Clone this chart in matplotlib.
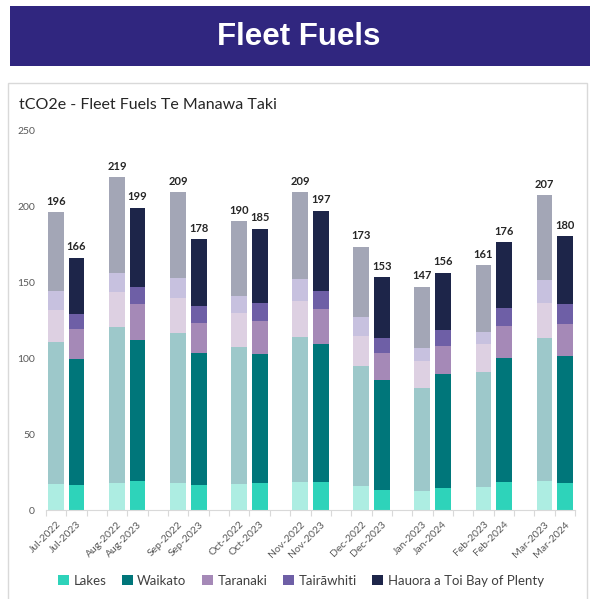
import matplotlib
matplotlib.use("Agg")
import matplotlib.pyplot as plt
from matplotlib.patches import Rectangle, Patch
import numpy as np

plt.rcParams['font.family'] = ['Lato', 'DejaVu Sans']

# ---- data ----
months = ["Jul", "Aug", "Sep", "Oct", "Nov", "Dec", "Jan", "Feb", "Mar"]
labels_prev = ["Jul-2022", "Aug-2022", "Sep-2022", "Oct-2022", "Nov-2022",
               "Dec-2022", "Jan-2023", "Feb-2023", "Mar-2023"]
labels_curr = ["Jul-2023", "Aug-2023", "Sep-2023", "Oct-2023", "Nov-2023",
               "Dec-2023", "Jan-2024", "Feb-2024", "Mar-2024"]
regions = ["Lakes", "Waikato", "Taranaki", "Tairāwhiti", "Hauora a Toi Bay of Plenty"]

# previous year (faded bars)
lakes_prev = [17.0, 17.5, 18.0, 17.0, 18.6, 16.0, 12.5, 15.0, 19.3]
waikato_prev = [93.5, 102.7, 98.7, 90.0, 95.4, 78.5, 67.8, 76.0, 94.0]
taranaki_prev = [21.0, 23.2, 22.8, 22.6, 23.7, 20.0, 18.0, 18.3, 23.2]
tairawhiti_prev = [12.5, 12.7, 13.4, 11.4, 14.5, 12.5, 8.2, 8.0, 14.7]
bop_prev = [52.0, 62.9, 56.1, 49.0, 56.8, 46.0, 40.5, 43.7, 55.8]
totals_prev = [196, 219, 209, 190, 209, 173, 147, 161, 207]

# current year (solid bars)
lakes_curr = [16.2, 19.1, 16.2, 17.8, 18.2, 13.4, 14.7, 18.2, 17.5]
waikato_curr = [83.4, 92.5, 87.1, 85.1, 90.8, 72.1, 75.0, 81.8, 84.0]
taranaki_curr = [19.5, 24.1, 19.9, 21.4, 23.0, 17.6, 18.4, 20.8, 21.1]
tairawhiti_curr = [9.9, 11.0, 11.0, 11.9, 12.1, 9.8, 10.1, 12.3, 12.9]
bop_curr = [37.0, 52.3, 43.8, 48.8, 52.9, 40.1, 37.8, 42.9, 44.5]
totals_curr = [166, 199, 178, 185, 197, 153, 156, 176, 180]

# ---- style ----
solid_colors = ["#2ED3BA", "#00767A", "#A589B7", "#6E5FA6", "#1D2549"]
faded_colors = ["#ADEDE2", "#9DC8CA", "#DDD0E2", "#C7C1DF", "#A3A6B6"]

W, H = 590, 599
fig = plt.figure(figsize=(W / 100, H / 100), dpi=100)

def fx(px):
    return px / W

def fy(py):
    return 1 - py / H

# banner
fig.patches.append(Rectangle((fx(10), fy(66)), fx(590) - fx(10), fy(6) - fy(66),
                             transform=fig.transFigure, facecolor="#30267F",
                             edgecolor="none", zorder=0))
fig.text(fx(299), fy(37), "Fleet Fuels", color="white", fontsize=22.5,
         fontweight="bold", family=["Liberation Sans", "DejaVu Sans"],
         ha="center", va="center")

# panel border
fig.patches.append(Rectangle((fx(8), fy(605)), fx(587) - fx(8), fy(83) - fy(605),
                             transform=fig.transFigure, facecolor="none",
                             edgecolor="#D9D9D9", linewidth=1.0, zorder=0))

fig.text(fx(19), fy(105), "tCO2e - Fleet Fuels Te Manawa Taki", fontsize=11.5,
         color="#262626", ha="left", va="center")

ax = fig.add_axes([fx(46), fy(510), fx(575) - fx(46), fy(130) - fy(510)])
ax.set_facecolor("none")
ax.set_zorder(2)

prev_vals = [lakes_prev, waikato_prev, taranaki_prev, tairawhiti_prev, bop_prev]
curr_vals = [lakes_curr, waikato_curr, taranaki_curr, tairawhiti_curr, bop_curr]

n = len(months)
pos_prev = np.arange(n) * 3
pos_curr = np.arange(n) * 3 + 1
bw = 0.78

bottom = np.zeros(n)
for vals, c in zip(prev_vals, faded_colors):
    ax.bar(pos_prev, vals, bw, bottom=bottom, color=c, edgecolor="none")
    bottom += np.array(vals)
bottom = np.zeros(n)
for vals, c, name in zip(curr_vals, solid_colors, regions):
    ax.bar(pos_curr, vals, bw, bottom=bottom, color=c, edgecolor="none", label=name)
    bottom += np.array(vals)

for p, t in zip(pos_prev, totals_prev):
    ax.annotate(str(t), (p, t), xytext=(0, 4), textcoords="offset points",
                ha="center", va="bottom", fontsize=8, fontweight="bold", color="#262626")
for p, t in zip(pos_curr, totals_curr):
    ax.annotate(str(t), (p, t), xytext=(0, 4), textcoords="offset points",
                ha="center", va="bottom", fontsize=8, fontweight="bold", color="#262626")

ax.set_ylim(0, 250)
ax.set_xlim(-0.5, 3 * n - 1 - 0.5)
ax.set_yticks([0, 50, 100, 150, 200, 250])
ax.tick_params(axis="y", length=0, labelsize=7.5, labelcolor="#595959", pad=8)

# x ticks: marks at slot boundaries, labels at bar centers
ax.set_xticks(np.arange(-0.5, 3 * n - 1, 1.0))
ax.set_xticklabels([])
ax.tick_params(axis="x", which="major", length=4, color="#D9D9D9", width=0.8)
tick_pos = np.concatenate([pos_prev, pos_curr])
tick_lab = labels_prev + labels_curr
ax.set_xticks(tick_pos, minor=True)
ax.set_xticklabels(tick_lab, minor=True, rotation=45, ha="right",
                   rotation_mode="anchor", fontsize=7.5, color="#595959")
ax.tick_params(axis="x", which="minor", length=0, pad=7)

for s in ["top", "right", "left"]:
    ax.spines[s].set_visible(False)
ax.spines["bottom"].set_color("#D9D9D9")
ax.spines["bottom"].set_linewidth(0.8)

handles = [Patch(facecolor=c, edgecolor="none") for c in solid_colors]
fig.legend(handles, regions, loc="center", bbox_to_anchor=(fx(301), fy(581)),
           ncol=5, frameon=False, fontsize=9.5, handlelength=0.8, handleheight=0.8,
           handletextpad=0.35, columnspacing=1.2, labelcolor="#404040")

fig.savefig("out.png", dpi=100)
